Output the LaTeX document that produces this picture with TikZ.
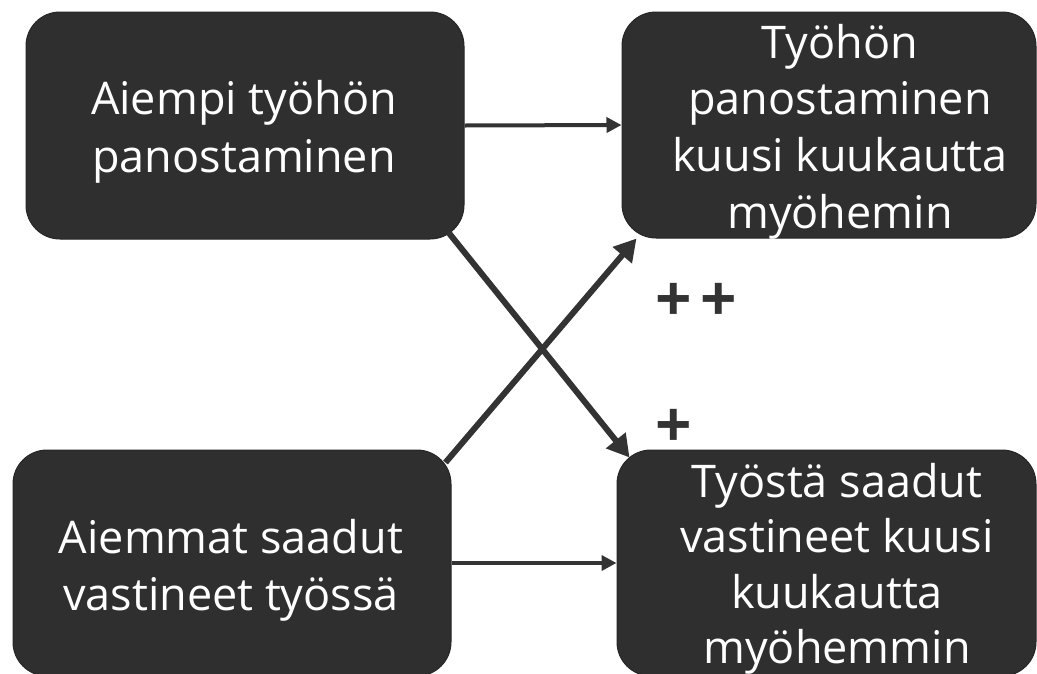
\documentclass[tikz,border=0pt]{standalone}
\usepackage{fontspec}
\setmainfont{Open Sans}
\usetikzlibrary{calc,arrows.meta}
\definecolor{boxfill}{HTML}{2F2F2F}
\definecolor{boxline}{HTML}{262626}
\definecolor{arrowc}{HTML}{333333}
\tikzset{
  box/.style={draw=boxline, line width=1pt, fill=boxfill, rounded corners=34pt, inner sep=0pt},
  txt/.style={text=white, anchor=base, inner sep=0pt, font=\fontsize{45}{57}\selectfont},
  harrow/.style={draw=arrowc, line width=4pt, -{Triangle[length=15pt,width=15pt]}},
  darrow/.style={draw=arrowc, line width=6pt, -{Triangle[length=22pt,width=24pt]}},
  plus/.style={text=arrowc, font=\fontsize{64}{64}\bfseries\selectfont, inner sep=0pt}
}
\begin{document}
\begin{tikzpicture}[x=1pt,y=-1pt]
\useasboundingbox (0,0) rectangle (1037,673);
\clip (0,0) rectangle (1037,673);
\node[box, minimum width=438pt, minimum height=227pt] (a) at (245,125.5) {};
\node[box, minimum width=414pt, minimum height=226pt] (b) at (829,125) {};
\node[box, minimum width=438pt, minimum height=226pt] (c) at (232,563) {};
\node[box, minimum width=419pt, minimum height=226pt] (d) at (826.5,563) {};
\foreach \t [count=\i] in {Aiempi työhön, panostaminen}
  \node[txt] (at\i) at (244, {114+58*(\i-1)}) {\t};
\foreach \t [count=\i] in {Työhön, panostaminen, kuusi kuukautta, myöhemin}
  \node[txt] (bt\i) at (840, {58+56.8*(\i-1)}) {\t};
\foreach \t [count=\i] in {Aiemmat saadut, vastineet työssä}
  \node[txt] (ct\i) at (231, {553+57*(\i-1)}) {\t};
\foreach \t [count=\i] in {Työstä saadut, vastineet kuusi, kuukautta, myöhemmin}
  \node[txt] (dt\i) at (837, {497+55.5*(\i-1)}) {\t};
\draw[harrow] (a.east) -- (b.west);
\draw[harrow] (c.east) -- (d.west);
\draw[darrow] ($(a.south east)+(-16,-7)$) -- ($(d.north west)+(13,8)$);
\draw[darrow] ($(c.north east)+(-6,13)$) -- ($(b.south west)+(15,0)$);
\node[plus] (p1) at (673.5,302) {+};
\node[plus] (p2) at (718.5,302) {+};
\node[plus] (p3) at (673.5,428.5) {+};
\end{tikzpicture}
\end{document}
